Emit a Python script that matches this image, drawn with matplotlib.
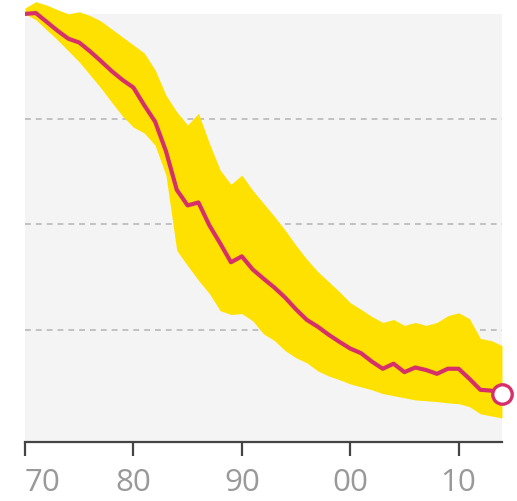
import matplotlib
matplotlib.use("Agg")
import matplotlib.pyplot as plt

plt.rcParams['font.family'] = ['Open Sans', 'DejaVu Sans']

# index, 1970 = 100
years = list(range(1970, 2015))
central = [100.0, 100.2, 98.1, 96.0, 94.1, 93.2, 91.1, 88.8, 86.4, 84.3,
           82.5, 78.3, 74.4, 67.4, 58.2, 54.5, 55.2, 49.8, 45.5, 41.0,
           42.4, 39.3, 37.1, 35.0, 32.6, 29.8, 27.3, 25.7, 23.8, 22.1,
           20.5, 19.4, 17.4, 15.7, 16.9, 14.9, 16.0, 15.4, 14.5, 15.7,
           15.7, 13.3, 10.7, 10.5, 9.8]
upper = [101.4, 102.9, 102.1, 101.0, 100.0, 100.5, 99.6, 98.3, 96.4, 94.5,
         92.6, 90.7, 86.7, 80.7, 76.7, 73.6, 76.4, 69.3, 62.9, 59.5,
         61.7, 58.1, 55.0, 51.9, 48.6, 45.0, 41.7, 38.8, 36.4, 34.0,
         31.4, 29.8, 28.1, 26.7, 27.4, 26.0, 26.7, 26.0, 26.7, 28.3,
         29.0, 27.6, 22.9, 22.4, 21.2]
lower = [100.0, 98.6, 96.2, 93.8, 91.2, 88.6, 85.5, 82.4, 79.0, 75.7,
         73.1, 71.7, 68.8, 61.7, 43.8, 40.2, 36.7, 33.6, 29.5, 28.6,
         28.8, 27.1, 24.0, 22.4, 20.0, 18.3, 17.1, 15.2, 14.0, 13.1,
         12.1, 11.4, 10.7, 9.8, 9.3, 8.8, 8.3, 8.1, 7.9, 7.6,
         7.4, 6.7, 5.0, 4.5, 4.0]
tick_years = [1970, 1980, 1990, 2000, 2010]
tick_labels = ['70', '80', '90', '00', '10']

fig = plt.figure(figsize=(5.17, 5.01), dpi=100)
ax = fig.add_axes([25 / 517, 59 / 501, 477 / 517, 442 / 501])
ax.set_xlim(1970, 2014)
ax.set_ylim(-1.7, 103.3)
ax.set_facecolor('white')

# grey panel behind the data
ax.axhspan(-1.7, 100, color='#f4f4f4', zorder=0, lw=0)
for g in [25, 50, 75]:
    ax.axhline(g, color='#b8b8b8', lw=1.2, ls=(0, (3.5, 3)), zorder=1)

ax.fill_between(years, lower, upper, color='#ffe100', lw=0, zorder=2)
ax.plot(years, central, color='#d6306b', lw=3.0, zorder=3,
        solid_joinstyle='round')
ax.plot(years[-1], central[-1], 'o', ms=14, mfc='white', mec='#d6306b',
        mew=2.4, zorder=4, clip_on=False)

for s in ['top', 'right', 'left']:
    ax.spines[s].set_visible(False)
ax.spines['bottom'].set_color('#444444')
ax.spines['bottom'].set_linewidth(1.6)
ax.set_yticks([])
ax.set_xticks(tick_years)
ax.set_xticklabels(tick_labels)
ax.tick_params(axis='x', length=10, width=1.6, color='#444444',
               labelsize=22.5, labelcolor='#999999', pad=9)
ax.get_xticklabels()[0].set_horizontalalignment('left')

fig.savefig('out.png', dpi=100)
